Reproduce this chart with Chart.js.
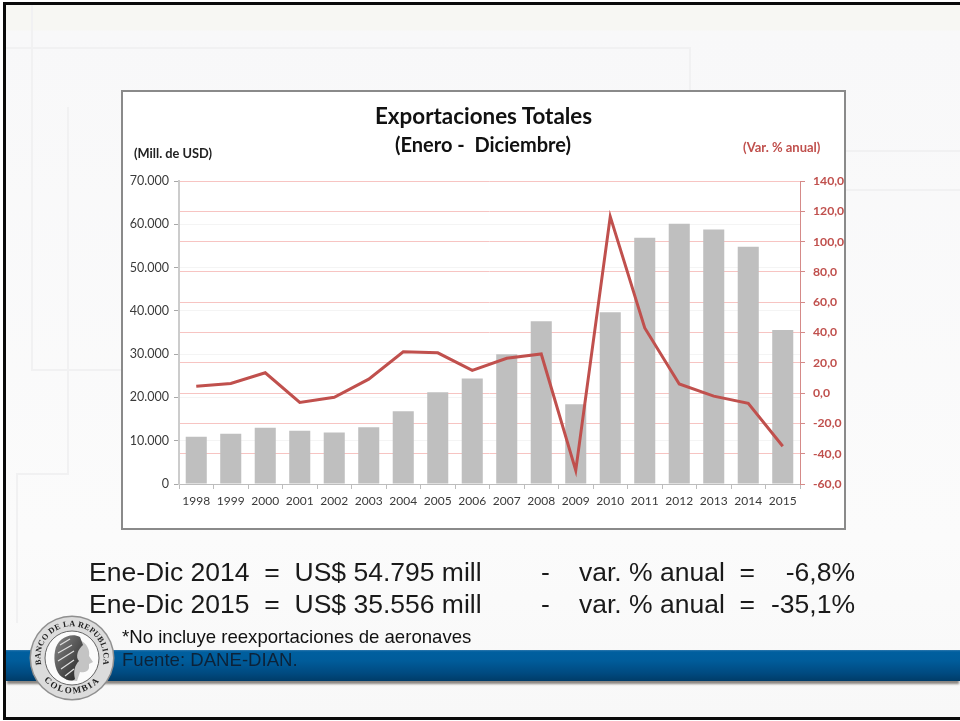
<!DOCTYPE html>
<html><head><meta charset="utf-8">
<style>
html,body{margin:0;padding:0;width:960px;height:721px;overflow:hidden;background:#fff}
#slide{position:absolute;left:3px;top:2px;width:960px;height:718px;box-sizing:border-box;border:3px solid #0a0a0a;border-right:0;background:linear-gradient(#f7f7f3 0,#f7f7f3 25px,#f8f8f9 26px,#fbfbfb 75%,#f8f8f8 100%);overflow:hidden}
.h,.v{position:absolute;background:#f1f1f2}
.h{height:2px}.v{width:2px}
#band{position:absolute;left:6px;top:650px;width:954px;height:31px;background:linear-gradient(#2f78ad 0,#005f9f 6%,#005c9a 35%,#004a80 75%,#003c68 100%);box-shadow:0 4px 2px -1px rgba(110,105,100,.8)}
#panel{position:absolute;left:121px;top:90px;width:725px;height:440px;box-sizing:border-box;border:2px solid #8a8a8a;background:#fff}
canvas{position:absolute;left:0;top:0}
.t{position:absolute;white-space:pre;font-family:"Liberation Sans",Arial,sans-serif;color:#1a1a1a}
.c{font-family:Lato,"Noto Sans",sans-serif;font-weight:700}
</style></head><body>
<div id="slide"></div>
<div class="v" style="left:31px;top:5px;height:365px"></div>
<div class="h" style="left:6px;top:47px;width:684px"></div>
<div class="h" style="left:31px;top:369px;width:90px"></div>
<div class="v" style="left:67px;top:107px;height:368px"></div>
<div class="h" style="left:16px;top:473px;width:52px"></div>
<div class="v" style="left:16px;top:473px;height:150px"></div>
<div class="v" style="left:689px;top:47px;height:43px"></div>
<div class="h" style="left:846px;top:150px;width:114px"></div>
<div class="h" style="left:846px;top:189px;width:114px"></div>
<div id="band"></div>
<div id="panel"></div>
<canvas id="c" width="960" height="721"></canvas>
<div class="t c" style="left:375px;top:102px;font-size:22.4px;line-height:28px;color:#111">Exportaciones Totales</div>
<div class="t c" style="left:395px;top:131px;font-size:20px;line-height:26px;color:#111">(Enero -  Diciembre)</div>
<div class="t c" style="left:134px;top:146px;font-size:12.8px;line-height:15px;color:#222">(Mill. de USD)</div>
<div class="t c" style="left:743px;top:140px;font-size:13px;line-height:15px;color:#c0504d">(Var. % anual)</div>
<div class="t" style="left:89px;top:557px;font-size:26.5px;line-height:30px">Ene-Dic 2014  =  US$ 54.795 mill</div>
<div class="t" style="left:89px;top:589px;font-size:26.5px;line-height:30px">Ene-Dic 2015  =  US$ 35.556 mill</div>
<div class="t" style="left:541px;top:557px;font-size:26.5px;line-height:30px">-</div>
<div class="t" style="left:541px;top:589px;font-size:26.5px;line-height:30px">-</div>
<div class="t" style="left:579px;top:557px;font-size:26.5px;line-height:30px">var. % anual  =</div>
<div class="t" style="left:579px;top:589px;font-size:26.5px;line-height:30px">var. % anual  =</div>
<div class="t" style="right:105px;top:557px;font-size:26.5px;line-height:30px">-6,8%</div>
<div class="t" style="right:105px;top:589px;font-size:26.5px;line-height:30px">-35,1%</div>
<div class="t" style="left:122px;top:627px;font-size:18.6px;line-height:20px;color:#111">*No incluye reexportaciones de aeronaves</div>
<div class="t" style="left:122px;top:650px;font-size:18.6px;line-height:20px;color:#0c2238">Fuente: DANE-DIAN.</div>
<svg style="position:absolute;left:28px;top:615px" width="90" height="90" viewBox="0 0 90 90">
<defs>
<path id="arcT" d="M 19 62 A 31.5 31.5 0 1 1 69 62"/>
<path id="arcB" d="M 11 58 A 37 37 0 0 0 77 58"/>
<linearGradient id="hair" x1="0" x2="1" y1="0" y2="1"><stop offset="0" stop-color="#8a8a8a"/><stop offset="1" stop-color="#1f1f1f"/></linearGradient>
</defs>
<circle cx="44" cy="43" r="42.5" fill="#8f8f8f"/>
<circle cx="44" cy="43" r="41" fill="#dcdcdc"/>
<circle cx="44" cy="43" r="27" fill="#fbfbfb" stroke="#666" stroke-width="1"/>
<path d="M50 24 C60 28 62 36 61 41 L65 47 L61 49 L61 53 C60 57 55 58 52 57 L49 66 L38 65 Z" fill="#c4c4c4"/>
<path d="M52 22 C42 17 29 24 27 36 C25 46 28 58 34 62 C38 65 44 67 47 64 C45 56 47 50 51 46 C47 42 50 34 55 30 Z" fill="url(#hair)"/>
<path d="M32 30 L42 24 M30 38 L44 30 M30 46 L46 36 M33 54 L46 45 M37 61 L46 54" stroke="#e0e0e0" stroke-width="1.2" fill="none"/>
<text font-family="Liberation Serif,serif" font-weight="700" font-size="8.2" fill="#222" letter-spacing=".3"><textPath href="#arcT" startOffset="50%" text-anchor="middle">BANCO DE LA REPUBLICA</textPath></text>
<text font-family="Liberation Serif,serif" font-weight="700" font-size="9" fill="#222" letter-spacing="1.6"><textPath href="#arcB" startOffset="50%" text-anchor="middle">COLOMBIA</textPath></text>
</svg>
<script src="https://cdn.jsdelivr.net/npm/chart.js@4"></script>
<script>
const categories = ["1998","1999","2000","2001","2002","2003","2004","2005","2006","2007","2008","2009","2010","2011","2012","2013","2014","2015"];
const exportValues = [10900,11600,13000,12300,11900,13100,16800,21200,24400,29990,37600,18400,39700,56900,60100,58800,54795,35556];
const variation = [4.6,6.4,13.4,-6.2,-2.8,9.2,27.3,26.6,15,23,25.8,-51,116.5,43,6,-2,-6.8,-35.1];
const leftTicks = [0,10000,20000,30000,40000,50000,60000,70000];
const rightTicks = [-60,-40,-20,0,20,40,60,80,100,120,140];

const fmtThousands = v => v === 0 ? "0" : String(v).replace(/\B(?=(\d{3})+$)/g, ".");
const fmtPct = v => v.toFixed(1).replace(".", ",");
const family = "Lato,'Noto Sans',sans-serif";

new Chart(document.getElementById("c"), {
  data:{labels:categories,datasets:[
    {type:"line",label:"Var. % anual",data:variation,yAxisID:"y1",borderColor:"#c0504d",borderWidth:3,pointRadius:0,tension:0,order:1},
    {type:"bar",label:"Exportaciones",data:exportValues,yAxisID:"y",backgroundColor:"#bfbfbf",categoryPercentage:1,barPercentage:0.61,order:2}
  ]},
  options:{
    responsive:false,animation:false,
    layout:{padding:{left:0,right:0,top:181,bottom:0}},
    plugins:{legend:{display:false},title:{display:false},tooltip:{enabled:false}},
    scales:{
      x:{position:"bottom",grid:{display:true,drawOnChartArea:false,color:"#bdbdbd",tickLength:5},border:{color:"#bdbdbd",width:1},
         ticks:{color:"#3a3a3a",font:{family,size:12},maxRotation:0,autoSkip:false,padding:5},
         afterFit(s){s.height=721-484;}},
      y:{position:"left",min:0,max:70000,afterBuildTicks(s){s.ticks=leftTicks.map(v=>({value:v}));},
         grid:{color:"#f4f4f4",lineWidth:1,tickColor:"#a8a8a8",tickLength:5},border:{color:"#cccccc",width:2},
         ticks:{color:"#3a3a3a",font:{family,size:12.5},padding:5,callback:fmtThousands},
         afterFit(s){s.width=179;}},
      y1:{position:"right",min:-60,max:140,afterBuildTicks(s){s.ticks=rightTicks.map(v=>({value:v}));},
         grid:{color:"#f7c4c2",lineWidth:1,tickColor:"#d58a88",tickLength:5},border:{color:"#d58a88",width:1},
         ticks:{color:"#c0504d",font:{family,size:12.2,weight:"700"},padding:8,callback:fmtPct},
         afterFit(s){s.width=960-800;}}
    }
  }
});
</script>
</body></html>
